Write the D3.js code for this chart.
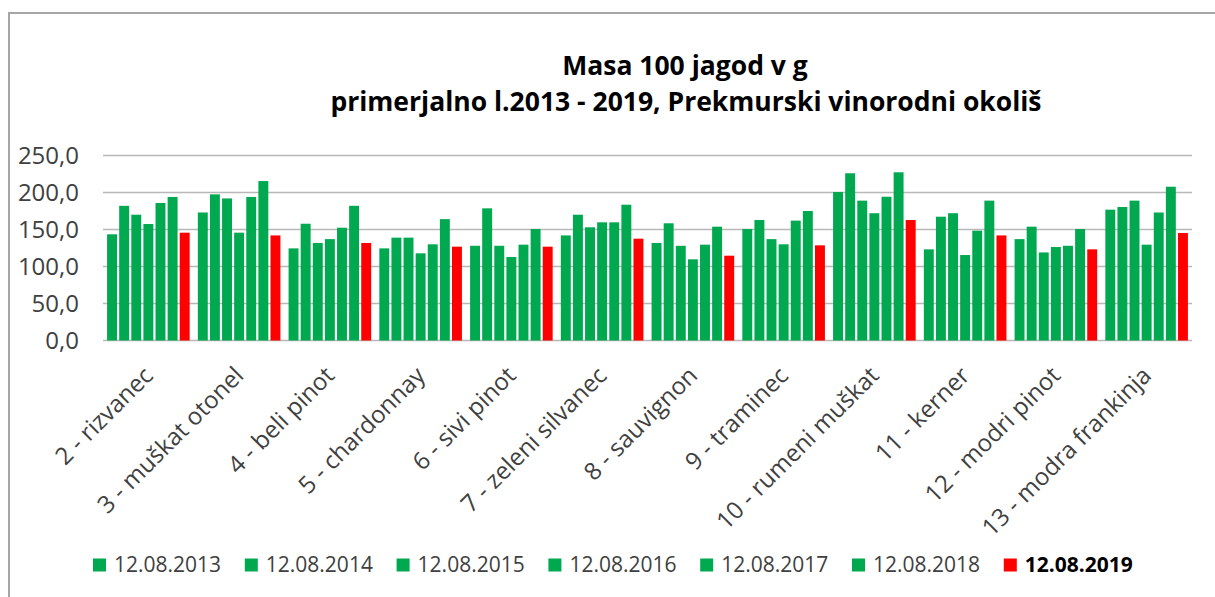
<!DOCTYPE html>
<meta charset="utf-8">
<head>
<style>
  body { margin: 0; background: #fff; }
  text { font-family: "Open Sans", "Noto Sans", sans-serif; fill: #404040; }
</style>
</head>
<body>
<script src="https://d3js.org/d3.v7.min.js"></script>
<script>

var categories = ["2 - rizvanec", "3 - muškat otonel", "4 - beli pinot", "5 - chardonnay",
  "6 - sivi pinot", "7 - zeleni silvanec", "8 - sauvignon", "9 - traminec",
  "10 - rumeni muškat", "11 - kerner", "12 - modri pinot", "13 - modra frankinja"];

var seriesNames = ["12.08.2013", "12.08.2014", "12.08.2015", "12.08.2016", "12.08.2017", "12.08.2018", "12.08.2019"];

var v2013 = [143.5, 173.0, 124.5, 124.5, 128.0, 142.0, 131.8, 150.7, 200.7, 123.2, 137.0, 176.8];
var v2014 = [182.0, 197.5, 157.8, 139.0, 178.6, 170.0, 158.4, 162.8, 226.0, 167.3, 153.8, 180.4];
var v2015 = [170.0, 192.0, 131.8, 139.0, 128.0, 153.0, 128.0, 137.0, 189.0, 172.0, 119.0, 189.0];
var v2016 = [157.4, 145.7, 137.0, 117.8, 112.8, 159.7, 109.7, 130.0, 172.0, 115.5, 126.4, 129.5];
var v2017 = [185.8, 194.0, 152.4, 130.0, 129.5, 159.7, 129.5, 162.0, 194.3, 148.4, 128.0, 173.0];
var v2018 = [194.0, 215.5, 182.0, 164.0, 150.7, 183.5, 153.8, 175.0, 227.3, 189.0, 150.7, 207.8];
var v2019 = [145.7, 142.0, 131.8, 126.8, 126.8, 137.6, 114.6, 128.6, 162.8, 142.0, 123.2, 145.3];

var yTicks = [0, 50, 100, 150, 200, 250];

var values = [v2013, v2014, v2015, v2016, v2017, v2018, v2019];
var colors = ["#00A850", "#00A850", "#00A850", "#00A850", "#00A850", "#00A850", "#FF0000"];

var width = 1215, height = 597;

var svg = d3.select("body").append("svg")
    .attr("width", width)
    .attr("height", height);

svg.append("rect").attr("width", width).attr("height", height).attr("fill", "#fff");

// chart frame (top and left edges visible)
svg.append("path")
    .attr("d", "M9,597V13H1215")
    .attr("fill", "none")
    .attr("stroke", "#A6A6A6")
    .attr("stroke-width", 2);

// title
svg.append("text")
    .attr("x", 685).attr("y", 75)
    .attr("text-anchor", "middle")
    .style("font-size", "26.5px").style("font-weight", "bold").style("fill", "#000")
    .text("Masa 100 jagod v g");
svg.append("text")
    .attr("x", 686).attr("y", 111)
    .attr("text-anchor", "middle")
    .style("font-size", "26.5px").style("font-weight", "bold").style("fill", "#000")
    .text("primerjalno l.2013 - 2019, Prekmurski vinorodni  okoliš");

var x0 = d3.scaleBand()
    .domain(categories)
    .range([103, 1192])
    .paddingInner(0.09)
    .paddingOuter(0.045);

var x1 = d3.scaleBand()
    .domain(d3.range(seriesNames.length))
    .range([0, x0.bandwidth()])
    .paddingInner(0.18);

var y = d3.scaleLinear()
    .domain([0, 250])
    .range([340.5, 155.5]);

// grid
svg.append("g").selectAll("line")
    .data(yTicks)
  .enter().append("line")
    .attr("x1", 103).attr("x2", 1192)
    .attr("y1", function(d) { return y(d); })
    .attr("y2", function(d) { return y(d); })
    .attr("stroke", "#B8B8B8")
    .attr("stroke-width", 1.5);

// y axis labels
var yAxis = d3.axisLeft(y)
    .tickValues(yTicks)
    .tickSize(0)
    .tickPadding(0)
    .tickFormat(function(d) { return d3.format(".1f")(d).replace(".", ","); });

var ya = svg.append("g")
    .attr("transform", "translate(79,0)")
    .call(yAxis);
ya.select(".domain").remove();
ya.selectAll("text")
    .style("font-size", "24px")
    .style("font-family", "\"Open Sans\", sans-serif")
    .attr("fill", "#404040");

// bars
var groups = svg.append("g").selectAll("g")
    .data(categories)
  .enter().append("g")
    .attr("transform", function(d) { return "translate(" + x0(d) + ",0)"; });

groups.selectAll("rect")
    .data(function(d, i) {
      return values.map(function(s, k) { return {k: k, v: s[i]}; });
    })
  .enter().append("rect")
    .attr("x", function(d) { return x1(d.k); })
    .attr("width", x1.bandwidth())
    .attr("y", function(d) { return y(d.v); })
    .attr("height", function(d) { return y(0) - y(d.v); })
    .attr("fill", function(d) { return colors[d.k]; });

// x axis labels
var xAxis = d3.axisBottom(x0).tickSize(0).tickPadding(0);
var xa = svg.append("g")
    .attr("transform", "translate(0,341)")
    .call(xAxis);
xa.select(".domain").remove();
xa.selectAll("text")
    .attr("text-anchor", "end")
    .attr("x", 0).attr("y", 0).attr("dy", null)
    .attr("transform", "translate(6,36) rotate(-45)")
    .style("font-size", "24px")
    .style("font-family", "\"Open Sans\", sans-serif")
    .attr("fill", "#404040");

// legend
var lx = d3.scaleBand()
    .domain(seriesNames)
    .range([93, 93 + 7 * 151.8]);

var leg = svg.append("g").selectAll("g")
    .data(seriesNames)
  .enter().append("g")
    .attr("transform", function(d) { return "translate(" + lx(d) + ",565)"; });

leg.append("rect")
    .attr("x", 0).attr("y", -6.5)
    .attr("width", 13).attr("height", 13)
    .attr("fill", function(d, i) { return colors[i]; });

leg.append("text")
    .attr("x", 21).attr("y", 0).attr("dy", "0.35em")
    .style("font-size", "21px")
    .style("font-weight", function(d, i) { return i == 6 ? "bold" : "normal"; })
    .style("fill", function(d, i) { return i == 6 ? "#000" : "#404040"; })
    .text(function(d) { return d; });

</script>
</body>
